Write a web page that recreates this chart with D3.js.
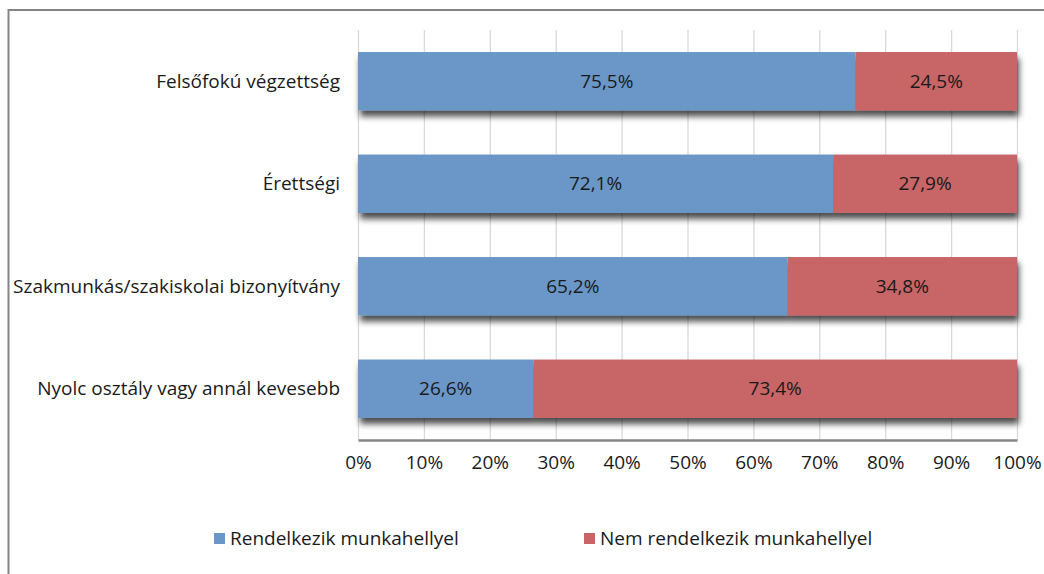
<!DOCTYPE html>
<html><head><meta charset="utf-8">
<script src="https://cdn.jsdelivr.net/npm/d3@7"></script>
<style>body{margin:0;background:#fff;}svg{display:block;font-family:"Open Sans",sans-serif;}</style>
</head><body>
<script>
const categories = ["Felsőfokú végzettség","Érettségi","Szakmunkás/szakiskolai bizonyítvány","Nyolc osztály vagy annál kevesebb"];
const seriesNames = ["Rendelkezik munkahellyel","Nem rendelkezik munkahellyel"];
const hasJob = [75.5,72.1,65.2,26.6];
const noJob = [24.5,27.9,34.8,73.4];
const xTicks = [0,10,20,30,40,50,60,70,80,90,100];
const colors = ["#6A97C8","#C86566"];

const W=1044,H=574,FS=19;
const svg=d3.select("body").append("svg").attr("width",W).attr("height",H);
const defs=svg.append("defs");
const f=defs.append("filter").attr("id","sh").attr("x","-5%").attr("y","-20%").attr("width","115%").attr("height","170%");
f.append("feGaussianBlur").attr("in","SourceAlpha").attr("stdDeviation",3);
f.append("feOffset").attr("dx",2).attr("dy",6).attr("result","o");
f.append("feComponentTransfer").append("feFuncA").attr("type","linear").attr("slope",0.7);
const m=f.append("feMerge");m.append("feMergeNode");m.append("feMergeNode").attr("in","SourceGraphic");

// outer border
svg.append("rect").attr("x",8.5).attr("y",10).attr("width",W+10).attr("height",H+10).attr("fill","none").attr("stroke","#858585").attr("stroke-width",2);

const x=d3.scaleLinear().domain([0,100]).range([358,1017]);
const y=d3.scaleBand().domain(categories).range([30,440]).paddingInner(0.43).paddingOuter(0.215);

// grid
svg.append("g").selectAll("line").data(xTicks).join("line")
 .attr("x1",d=>x(d)+0.5).attr("x2",d=>x(d)+0.5).attr("y1",30).attr("y2",440)
 .attr("stroke","#d9d9d9").attr("stroke-width",1.3);

const rows=categories.map((c,i)=>({c,v:[hasJob[i],noJob[i]]}));
const g=svg.append("g");
rows.forEach(r=>{
  const rg=g.append("g").attr("filter","url(#sh)");
  let acc=0;
  r.v.forEach((v,j)=>{
    rg.append("rect").attr("x",x(acc)).attr("y",y(r.c)).attr("width",x(acc+v)-x(acc)).attr("height",y.bandwidth()).attr("fill",colors[j]);
    acc+=v;
  });
});
rows.forEach(r=>{
  let acc=0;
  r.v.forEach((v,j)=>{
    g.append("text").attr("x",(x(acc)+x(acc+v))/2).attr("y",y(r.c)+y.bandwidth()/2).attr("dy","0.35em")
     .attr("text-anchor","middle").attr("font-size",FS).attr("fill","#1a1a1a").text(v.toFixed(1).replace(".",",")+"%");
    acc+=v;
  });
});

// x axis
const ax=svg.append("g").attr("transform","translate(0,440)")
 .call(d3.axisBottom(x).tickValues(xTicks).tickFormat(d=>d+"%").tickSize(0).tickPadding(16));
ax.select(".domain").attr("stroke","#868686").attr("stroke-width",2.5);
ax.selectAll("text").attr("font-size",FS).attr("fill","#1a1a1a").attr("font-family","'Open Sans',sans-serif");

// y labels
svg.append("g").selectAll("text").data(categories).join("text")
 .attr("x",340).attr("y",d=>y(d)+y.bandwidth()/2).attr("dy","0.35em").attr("text-anchor","end")
 .attr("font-size",FS).attr("fill","#1a1a1a").text(d=>d);

// legend
const lx=[214,584];
seriesNames.forEach((s,i)=>{
  svg.append("rect").attr("x",lx[i]).attr("y",533).attr("width",11).attr("height",11).attr("fill",colors[i]);
  svg.append("text").attr("x",lx[i]+16).attr("y",538.5).attr("dy","0.35em").attr("font-size",FS).attr("fill","#1a1a1a").text(s);
});
</script>
</body></html>
